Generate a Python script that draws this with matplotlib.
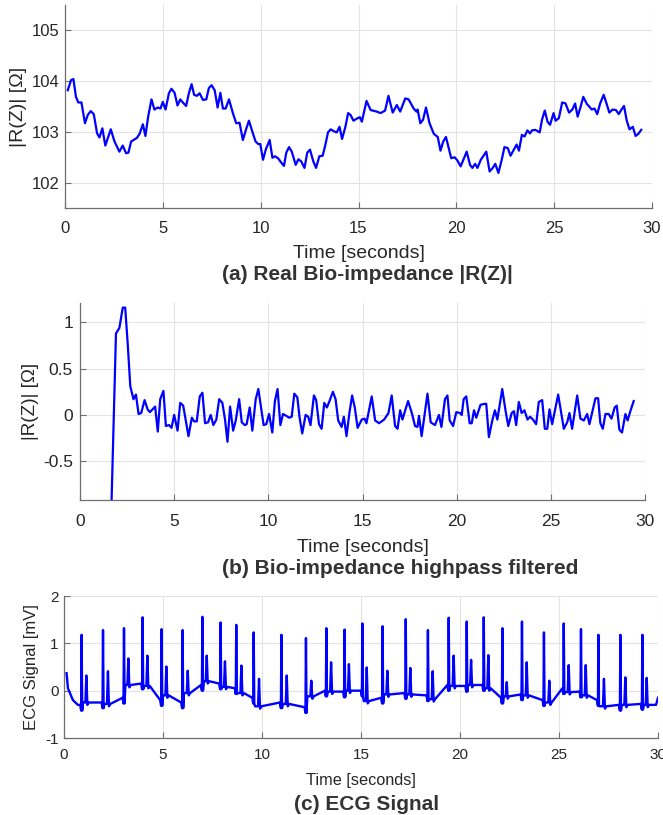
import matplotlib.pyplot as plt
import numpy as np

plt.rcParams['font.family'] = ['Liberation Sans', 'DejaVu Sans']
plt.rcParams['axes.unicode_minus'] = False

# (a) real bio-impedance
t_a = [0.14, 0.31, 0.43, 0.56, 0.68, 0.84, 1.02, 1.16, 1.31, 1.47, 1.64, 1.76, 1.91, 2.06, 2.34,
       2.53, 2.78, 2.95, 3.12, 3.24, 3.38, 3.67, 3.81, 3.98, 4.11, 4.25, 4.42, 4.57, 4.74, 4.88,
       5.0, 5.14, 5.31, 5.44, 5.6, 5.75, 5.89, 6.02, 6.19, 6.33, 6.47, 6.6, 6.74, 6.88, 7.05,
       7.22, 7.35, 7.49, 7.65, 7.8, 7.94, 8.07, 8.21, 8.38, 8.58, 8.75, 8.92, 9.09, 9.27, 9.40,
       9.57, 9.74, 9.88, 9.98, 10.12, 10.26, 10.46, 10.6, 10.73, 10.89, 11.06, 11.19, 11.31, 11.45,
       11.59, 11.79, 11.93, 12.07, 12.24, 12.38, 12.52, 12.69, 12.83, 13.0, 13.17, 13.31, 13.44,
       13.58, 13.75, 13.89, 14.03, 14.16, 14.33, 14.47, 14.6, 14.74, 14.91, 15.07, 15.17, 15.41,
       15.62, 15.93, 16.13, 16.36, 16.53, 16.75, 16.96, 17.13, 17.39, 17.56, 17.82, 17.96, 18.02,
       18.16, 18.3, 18.45, 18.63, 18.85, 19.05, 19.19, 19.33, 19.47, 19.74, 19.91, 20.05, 20.22,
       20.39, 20.53, 20.70, 20.82, 20.96, 21.08, 21.25, 21.39, 21.53, 21.70, 21.86, 21.99, 22.15,
       22.32, 22.46, 22.63, 22.77, 22.94, 23.08, 23.2, 23.35, 23.49, 23.63, 23.76, 23.87, 24.04,
       24.26, 24.38, 24.52, 24.66, 24.79, 24.97, 25.07, 25.24, 25.41, 25.58, 25.76, 25.93, 26.07,
       26.2, 26.34, 26.49, 26.67, 26.79, 26.92, 27.06, 27.2, 27.35, 27.53, 27.65, 27.82, 27.99,
       28.16, 28.3, 28.44, 28.57, 28.71, 28.85, 29.02, 29.16, 29.30, 29.45]
z_a = [103.82, 104.02, 104.04, 103.69, 103.58, 103.58, 103.17, 103.33, 103.41, 103.35, 102.97,
       102.89, 103.07, 102.73, 103.05, 102.81, 102.61, 102.73, 102.58, 102.59, 102.81, 102.88,
       102.96, 103.15, 102.92, 103.30, 103.64, 103.44, 103.48, 103.46, 103.59, 103.44, 103.76,
       103.85, 103.77, 103.52, 103.64, 103.58, 103.51, 103.76, 103.94, 103.73, 103.71, 103.76,
       103.63, 103.64, 103.86, 103.92, 103.82, 103.48, 103.77, 103.46, 103.46, 103.64, 103.37,
       103.17, 103.18, 102.84, 103.07, 103.22, 103.01, 102.81, 102.76, 102.76, 102.45, 102.65,
       102.84, 102.49, 102.52, 102.48, 102.39, 102.33, 102.59, 102.70, 102.61, 102.35, 102.46,
       102.42, 102.29, 102.59, 102.65, 102.42, 102.29, 102.52, 102.53, 102.75, 102.99, 103.05,
       103.01, 102.99, 103.10, 102.86, 103.10, 103.37, 103.33, 103.22, 103.26, 103.29, 103.20,
       103.61, 103.43, 103.40, 103.37, 103.42, 103.71, 103.38, 103.53, 103.40, 103.66, 103.64,
       103.46, 103.40, 103.44, 103.17, 103.24, 103.48, 103.17, 102.96, 102.90, 102.63, 102.81,
       102.90, 102.48, 102.50, 102.44, 102.32, 102.48, 102.61, 102.35, 102.29, 102.37, 102.29,
       102.45, 102.53, 102.61, 102.22, 102.29, 102.37, 102.19, 102.45, 102.70, 102.68, 102.53,
       102.65, 102.75, 102.63, 102.94, 102.91, 103.03, 102.97, 103.03, 103.04, 102.99, 103.24,
       103.42, 103.20, 103.14, 103.37, 103.22, 103.27, 103.58, 103.56, 103.38, 103.44, 103.56,
       103.30, 103.48, 103.69, 103.55, 103.50, 103.44, 103.46, 103.35, 103.56, 103.73, 103.59,
       103.38, 103.44, 103.43, 103.35, 103.44, 103.51, 103.22, 103.05, 103.10, 102.92, 102.96,
       103.04]

# (b) highpass filtered bio-impedance
t_b = [1.60, 1.68, 1.91, 2.09, 2.27, 2.40, 2.53, 2.67, 2.84, 2.97, 3.11, 3.25, 3.43, 3.59, 3.71,
       3.85, 3.99, 4.13, 4.26, 4.43, 4.56, 4.73, 4.86, 5.0, 5.18, 5.32, 5.48, 5.76, 5.94, 6.06,
       6.2, 6.36, 6.5, 6.64, 6.8, 6.94, 7.08, 7.24, 7.39, 7.56, 7.70, 7.83, 7.97, 8.13, 8.27,
       8.45, 8.59, 8.75, 8.85, 9.01, 9.15, 9.33, 9.47, 9.63, 9.75, 9.89, 10.04, 10.21, 10.35,
       10.49, 10.64, 10.78, 10.95, 11.1, 11.24, 11.38, 11.54, 11.66, 11.80, 11.98, 12.12, 12.24,
       12.42, 12.54, 12.69, 12.83, 12.97, 13.11, 13.25, 13.43, 13.57, 13.71, 13.89, 14.01, 14.15,
       14.31, 14.45, 14.59, 14.74, 14.96, 15.11, 15.21, 15.49, 15.67, 15.88, 16.15, 16.38, 16.55,
       16.73, 16.86, 17.0, 17.12, 17.42, 17.62, 17.79, 17.92, 18.0, 18.14, 18.45, 18.62, 18.85,
       19.06, 19.19, 19.38, 19.51, 19.63, 19.81, 19.98, 20.18, 20.27, 20.37, 20.51, 20.69, 20.80,
       20.92, 21.04, 21.27, 21.5, 21.57, 21.71, 21.89, 22.03, 22.16, 22.42, 22.60, 22.74, 22.92,
       23.04, 23.16, 23.30, 23.45, 23.60, 23.76, 23.90, 24.05, 24.22, 24.36, 24.54, 24.68, 24.81,
       24.93, 25.07, 25.39, 25.69, 25.87, 25.99, 26.13, 26.40, 26.57, 26.75, 26.93, 27.05, 27.37,
       27.51, 27.63, 27.76, 27.90, 28.07, 28.22, 28.39, 28.50, 28.64, 28.78, 28.96, 29.08, 29.22,
       29.40]
z_b = [-1.52, -0.90, 0.88, 0.94, 1.16, 1.16, 0.78, 0.31, 0.17, 0.22, 0.01, 0.02, 0.16, 0.06, 0.03,
       0.06, 0.09, -0.18, 0.17, 0.26, -0.12, -0.11, -0.14, 0.0, -0.17, 0.13, 0.10, -0.23, -0.03,
       -0.07, -0.07, 0.20, 0.24, -0.09, -0.08, 0.0, -0.11, -0.05, 0.17, 0.13, -0.05, -0.29, 0.09,
       -0.17, -0.06, 0.17, -0.08, -0.11, -0.10, 0.08, -0.17, 0.17, 0.28, 0.06, -0.11, -0.10, 0.01,
       -0.19, 0.15, 0.28, -0.11, 0.01, -0.01, -0.03, -0.02, 0.23, 0.19, -0.03, -0.20, 0.0, -0.02,
       -0.11, 0.21, 0.16, -0.10, -0.15, 0.13, 0.08, 0.15, 0.25, 0.17, -0.06, -0.13, -0.02, -0.23,
       0.03, 0.21, 0.08, -0.14, -0.05, -0.04, -0.09, 0.20, -0.06, -0.09, -0.05, 0.02, 0.21, -0.12,
       -0.15, 0.05, -0.05, 0.15, 0.02, -0.12, -0.13, -0.01, -0.23, 0.23, -0.08, -0.11, 0.0, -0.13,
       0.17, 0.21, -0.06, -0.12, 0.03, 0.02, 0.0, 0.17, 0.20, -0.09, -0.09, 0.05, -0.03, 0.11,
       0.12, 0.12, -0.24, -0.06, 0.05, -0.05, 0.28, 0.04, -0.12, 0.02, 0.04, -0.11, 0.14, 0.02,
       0.05, -0.05, -0.02, -0.05, -0.10, 0.14, 0.16, -0.15, -0.15, 0.06, -0.10, 0.22, -0.15, -0.08,
       0.02, -0.15, 0.21, -0.04, -0.06, 0.01, -0.10, 0.18, 0.18, -0.09, -0.15, 0.01, 0.01, -0.04,
       0.08, 0.10, -0.16, -0.19, 0.01, -0.06, 0.04, 0.15]

# (c) ECG beats: R peak time / height, second peak time / height, level before and after
beat_t = [0.89, 1.97, 3.03, 3.97, 4.93, 5.99, 6.99, 7.91, 8.70, 9.58, 10.98, 12.22, 13.25, 14.17,
          15.07, 16.09, 17.26, 18.38, 19.43, 20.34, 21.20, 22.14, 23.13, 24.24, 25.24, 26.11,
          26.99, 28.10, 29.21]
r_amp = [1.18, 1.28, 1.32, 1.55, 1.30, 1.28, 1.56, 1.44, 1.39, 1.23, 1.18, 1.11, 1.32, 1.29,
         1.42, 1.36, 1.51, 1.28, 1.54, 1.46, 1.55, 1.32, 1.46, 1.23, 1.42, 1.30, 1.18, 1.18, 1.18]
wave_t = [1.13, 2.22, 3.25, 4.21, 5.17, 6.25, 7.21, 8.13, 8.96, 9.85, 11.25, 12.49, 13.49, 14.39,
          15.29, 16.33, 17.49, 18.62, 19.68, 20.56, 21.43, 22.36, 23.37, 24.51, 25.49, 26.35,
          27.27, 28.35, 29.43]
wave_amp = [0.32, 0.41, 0.68, 0.74, 0.51, 0.42, 0.74, 0.62, 0.53, 0.25, 0.32, 0.21, 0.60, 0.56,
            0.49, 0.42, 0.48, 0.41, 0.74, 0.65, 0.75, 0.18, 0.60, 0.21, 0.54, 0.54, 0.25, 0.28, 0.27]
pre_lvl = [-0.30, -0.25, -0.15, 0.15, -0.20, -0.25, 0.12, 0.15, 0.05, -0.15, -0.25, -0.35, 0.0,
           -0.02, 0.0, -0.15, -0.05, -0.10, 0.12, 0.10, 0.12, -0.15, -0.08, -0.20, 0.05, -0.02,
           -0.20, -0.30, -0.28]
post_lvl = [-0.25, -0.28, 0.12, 0.10, -0.10, -0.05, 0.20, 0.08, -0.05, -0.33, -0.28, -0.12, -0.02,
            0.0, -0.22, -0.08, -0.08, -0.18, 0.10, 0.12, 0.05, -0.12, -0.10, -0.25, -0.03, -0.10,
            -0.33, -0.30, -0.30]
ecg_head_t = [0.13, 0.2, 0.45, 0.7]
ecg_head_v = [0.37, 0.05, -0.2, -0.3]
ecg_tail_t = [29.9, 30.0]
ecg_tail_v = [-0.3, -0.15]

ecg_t = list(ecg_head_t)
ecg_v = list(ecg_head_v)
for tr, r, tw, w, pre, post in zip(beat_t, r_amp, wave_t, wave_amp, pre_lvl, post_lvl):
    ecg_t += [tr - 0.07, tr - 0.025, tr, tr + 0.03, tr + 0.07, tw - 0.05, tw, tw + 0.05, tw + 0.12]
    ecg_v += [pre, pre - 0.12, r, pre - 0.12, post, post, w, post - 0.05, post]
ecg_t += ecg_tail_t
ecg_v += ecg_tail_v

W, H = 663, 815
fig = plt.figure(figsize=(W / 100, H / 100), dpi=100)
txt = '#262626'
blue = '#0000ff'


def style(ax, fs, xpad, ypad):
    ax.grid(True, color='#e3e3e3', linewidth=0.8)
    ax.set_axisbelow(True)
    for s in ['top', 'right']:
        ax.spines[s].set_visible(False)
    for s in ['left', 'bottom']:
        ax.spines[s].set_color('#6e6e6e')
        ax.spines[s].set_linewidth(0.9)
    ax.tick_params(direction='in', length=4, width=0.8, color='#6e6e6e',
                   labelsize=fs, labelcolor=txt)
    ax.tick_params(axis='x', pad=xpad)
    ax.tick_params(axis='y', pad=ypad)
    ax.set_xlim(0, 30)
    ax.set_xticks(range(0, 31, 5))


ax1 = fig.add_axes([65 / W, 1 - 208 / H, 587 / W, 203 / H])
ax1.plot(t_a, z_a, color=blue, lw=1.6)
style(ax1, 12, 9, 4)
ax1.set_ylim(101.5, 105.5)
ax1.set_yticks([102, 103, 104, 105])
ax1.set_xlabel('Time [seconds]', fontsize=14, color=txt, labelpad=7)
ax1.set_ylabel('|R(Z)| [Ω]', fontsize=14, color=txt, labelpad=3)
fig.text(367 / W, 1 - 274 / H, '(a) Real Bio-impedance |R(Z)|', ha='center', va='center',
         fontsize=15, fontweight='bold', color='#333333')

ax2 = fig.add_axes([80 / W, 1 - 500 / H, 565 / W, 197 / H])
ax2.plot(t_b, z_b, color=blue, lw=1.6)
style(ax2, 12.5, 10, 5)
ax2.set_ylim(-0.92, 1.21)
ax2.set_yticks([-0.5, 0, 0.5, 1])
ax2.set_yticklabels(['-0.5', '0', '0.5', '1'])
ax2.set_xlabel('Time [seconds]', fontsize=14, color=txt, labelpad=7)
ax2.set_ylabel('|R(Z)| [Ω]', fontsize=13.6, color=txt, labelpad=3)
fig.text(400 / W, 1 - 568 / H, '(b) Bio-impedance highpass filtered', ha='center', va='center',
         fontsize=15, fontweight='bold', color='#333333')

ax3 = fig.add_axes([64 / W, 1 - 738 / H, 594 / W, 142 / H])
ax3.plot(ecg_t, ecg_v, color=blue, lw=1.7)
style(ax3, 11, 7, 4)
ax3.set_ylim(-1, 2)
ax3.set_yticks([-1, 0, 1, 2])
ax3.set_yticklabels(['-1', '0', '1', '2'])
ax3.set_xlabel('Time [seconds]', fontsize=11.7, color=txt, labelpad=8)
ax3.set_ylabel('ECG Signal [mV]', fontsize=12, color=txt, labelpad=4)
fig.text(367 / W, 1 - 804 / H, '(c) ECG Signal', ha='center', va='center',
         fontsize=15, fontweight='bold', color='#333333')

fig.savefig('out.png', dpi=100)
